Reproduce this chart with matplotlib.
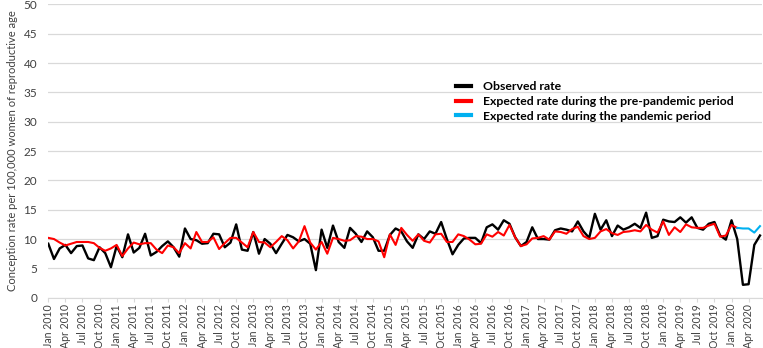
import matplotlib.pyplot as plt
import numpy as np

plt.rcParams['font.family'] = ['Lato', 'DejaVu Sans']

# monthly conception rates, Jan 2010 - Jun 2020
observed = [
    9.2, 6.6, 8.4, 9.0, 7.6, 8.8, 8.9, 6.7, 6.4, 8.6, 7.6, 5.2,
    8.8, 6.9, 10.8, 7.7, 8.5, 10.9, 7.2, 7.8, 8.8, 9.6, 8.6, 7.0,
    11.8, 10.0, 9.8, 9.2, 9.3, 10.9, 10.8, 8.6, 9.4, 12.5, 8.2, 8.0,
    11.2, 7.5, 10.0, 9.2, 7.6, 9.2, 10.7, 10.3, 9.6, 10.0, 9.2, 4.7,
    11.6, 8.5, 12.3, 9.5, 8.5, 11.9, 10.9, 9.5, 11.3, 10.3, 8.0, 8.0,
    10.7, 11.8, 11.3, 9.6, 8.5, 10.8, 10.0, 11.3, 10.9, 12.9, 10.0, 7.4,
    9.0, 10.1, 10.2, 10.2, 9.3, 12.0, 12.5, 11.6, 13.2, 12.6, 10.3, 8.8,
    9.5, 12.0, 10.0, 10.0, 9.9, 11.5, 11.8, 11.6, 11.3, 13.0, 11.3, 10.2,
    14.3, 11.6, 13.2, 10.5, 12.3, 11.6, 12.0, 12.6, 11.9, 14.5, 10.2, 10.5,
    13.3, 13.0, 12.9, 13.7, 12.8, 13.7, 11.9, 11.6, 12.6, 12.9, 10.6, 9.9,
    13.2, 10.0, 2.2, 2.3, 9.0, 10.6,
]
expected_pre = [
    10.2, 10.0, 9.4, 8.9, 9.2, 9.5, 9.5, 9.5, 9.3, 8.5, 8.0, 8.4,
    9.0, 7.1, 8.4, 9.4, 9.1, 9.3, 9.3, 8.2, 7.6, 8.9, 8.6, 7.6,
    9.3, 8.4, 11.2, 9.5, 9.5, 10.3, 8.3, 9.3, 10.2, 10.2, 9.4, 8.6,
    11.2, 9.5, 9.4, 8.6, 9.5, 10.5, 9.8, 8.4, 9.6, 12.2, 9.4, 8.2,
    9.5, 7.5, 10.2, 10.0, 9.7, 9.8, 10.5, 10.4, 10.0, 10.0, 9.6, 6.9,
    10.8, 9.0, 11.9, 10.7, 9.7, 10.8, 9.7, 9.4, 10.8, 10.9, 9.5, 9.5,
    10.8, 10.5, 9.9, 9.1, 9.2, 10.8, 10.4, 11.2, 10.6, 12.4, 10.3, 8.8,
    9.1, 10.1, 10.2, 10.5, 9.9, 11.3, 11.2, 10.9, 11.7, 12.1, 10.5, 10.0,
    10.2, 11.3, 11.7, 11.0, 10.7, 11.2, 11.3, 11.5, 11.3, 12.4, 11.6, 11.1,
    13.0, 10.7, 12.0, 11.2, 12.5, 12.0, 11.9, 11.9, 12.3, 12.6, 10.4, 10.6,
    12.4, 11.9,
]
expected_pan = [11.9, 11.8, 11.8, 11.1, 12.2]
pan_start = 121

months = ['Jan', 'Apr', 'Jul', 'Oct']
tick_labels = [f"{months[(i // 3) % 4]} {2010 + i // 12}" for i in range(0, 124, 3)]

x_obs = np.arange(len(observed))
x_pre = np.arange(len(expected_pre))
x_pan = np.arange(pan_start, pan_start + len(expected_pan))

fig = plt.figure(figsize=(7.63, 3.48), dpi=100)
ax = fig.add_axes([0.0633, 0.1445, 0.935, 0.843])

ax.plot(x_obs, observed, color='black', lw=1.7, label='Observed rate', zorder=3)
ax.plot(x_pre, expected_pre, color='#FF0000', lw=1.5,
        label='Expected rate during the pre-pandemic period', zorder=4)
ax.plot(x_pan, expected_pan, color='#00B0F0', lw=1.5,
        label='Expected rate during the pandemic period', zorder=4)

ax.set_xlim(0, 125.3)
ax.set_ylim(0, 50)
ax.set_yticks(range(0, 51, 5))
ax.set_xticks(range(0, 124, 3))
ax.set_xticklabels(tick_labels, rotation=90, fontsize=7.6, color='#404040')
ax.tick_params(axis='y', length=0, labelsize=8.5, labelcolor='#404040', pad=8)
ax.tick_params(axis='x', length=3, color='#D9D9D9', pad=1.5)
ax.grid(axis='y', color='#D9D9D9', lw=0.9)
ax.set_axisbelow(True)
for s in ['top', 'right', 'left']:
    ax.spines[s].set_visible(False)
ax.spines['bottom'].set_color('#D9D9D9')

ax.set_ylabel('Conception rate per 100,000 women of reproductive age',
              fontsize=8, color='#404040', labelpad=4)

leg = ax.legend(loc='upper left', bbox_to_anchor=(0.556, 0.775), frameon=False,
                handlelength=1.2, handletextpad=1.0, labelspacing=0.3,
                prop={'weight': 'bold', 'size': 8.8})
for h in leg.legend_handles:
    h.set_linewidth(3)

fig.savefig('out.png', dpi=100)
